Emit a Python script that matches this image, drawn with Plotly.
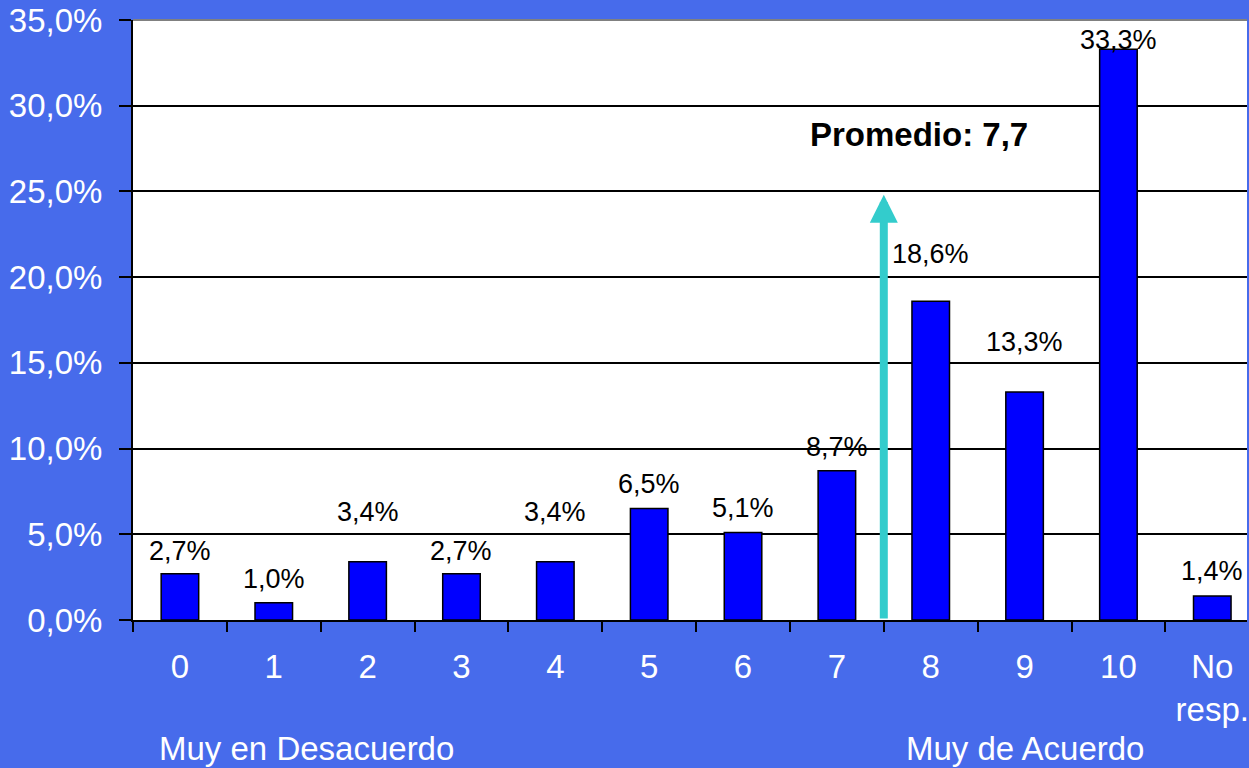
import plotly.graph_objects as go

# categories on the 0-10 scale plus "no answer"
categories = ['0', '1', '2', '3', '4', '5', '6', '7', '8', '9', '10', 'No resp.']
tick_text = ['0', '1', '2', '3', '4', '5', '6', '7', '8', '9', '10', 'No<br>resp.']
pct = [2.7, 1.0, 3.4, 2.7, 3.4, 6.5, 5.1, 8.7, 18.6, 13.3, 33.3, 1.4]

# label offsets above each bar (px), as in the original
label_shift = [23, 24, 50, 23, 50, 25, 25, 24, 47, 50, 9, 25]

promedio_text = 'Promedio: 7,7'
arrow_x = 7.5
arrow_top = 24.8

BG = '#476BEB'
FONT = 'Liberation Sans, Arial, sans-serif'

fig = go.Figure()
fig.add_trace(go.Bar(
    x=categories, y=pct, width=0.4,
    marker=dict(color='#0000FF', line=dict(color='black', width=1.5)),
    hoverinfo='x+y'
))

annotations = []
for c, v, s in zip(categories, pct, label_shift):
    annotations.append(dict(
        x=c, y=v, text=f'{v:.1f}%'.replace('.', ','), showarrow=False,
        yanchor='middle', yshift=s, font=dict(size=27, color='black', family=FONT)
    ))

# average arrow
annotations.append(dict(
    x=arrow_x, y=arrow_top, ax=arrow_x, ay=0, xref='x', yref='y', axref='x', ayref='y',
    text='', showarrow=True, arrowhead=2, arrowsize=0.7, arrowwidth=8,
    arrowcolor='#33CCCC', standoff=0, startstandoff=0
))
annotations.append(dict(
    x=7.87, y=28.35, text='<b>' + promedio_text + '</b>', showarrow=False,
    font=dict(size=33, color='black', family=FONT)
))
annotations.append(dict(
    x=1.35, y=-0.214, yref='paper', text='Muy en Desacuerdo', showarrow=False,
    yanchor='middle', font=dict(size=33, color='white', family=FONT)
))
annotations.append(dict(
    x=9.0, y=-0.214, yref='paper', text='Muy de Acuerdo', showarrow=False,
    yanchor='middle', font=dict(size=33, color='white', family=FONT)
))

fig.update_layout(
    width=1249, height=768,
    margin=dict(l=133, r=0, t=20, b=148),
    paper_bgcolor=BG, plot_bgcolor='white',
    separators=',.',
    showlegend=False,
    annotations=annotations,
    font=dict(family=FONT, color='white'),
    shapes=[dict(type='line', xref='paper', yref='paper', x0=0, x1=1, y0=1, y1=1,
                 line=dict(color='#808080', width=2))],
    xaxis=dict(
        type='category', range=[-0.5, 11.37],
        tickvals=categories, ticktext=tick_text,
        tickson='boundaries', ticks='outside', ticklen=10, tickwidth=2, tickcolor='black',
        showline=True, linecolor='black', linewidth=2, showgrid=False,
        tickfont=dict(size=33, color='white'), ticklabelstandoff=16
    ),
    yaxis=dict(
        range=[0, 35], dtick=5, tickformat='.1f', ticksuffix='%',
        ticks='outside', ticklen=12, tickwidth=2, tickcolor='black',
        showline=True, linecolor='black', linewidth=2,
        showgrid=True, gridcolor='black', gridwidth=1.5, zeroline=False,
        tickfont=dict(size=33, color='white'), ticklabelstandoff=10
    ),
)

fig.write_html('out.html', config={'displayModeBar': False},
               post_script="document.body.style.margin='0';")
